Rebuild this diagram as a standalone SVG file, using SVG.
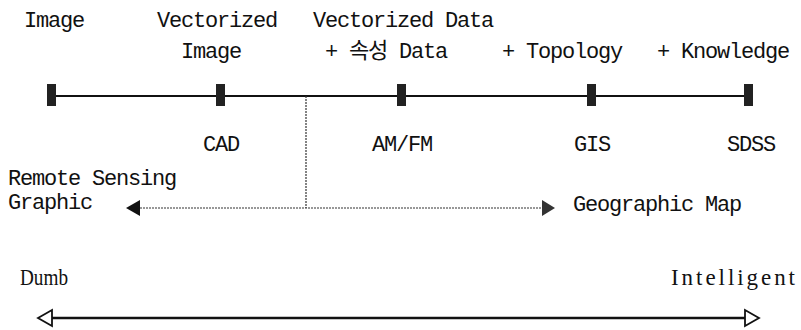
<svg xmlns="http://www.w3.org/2000/svg" width="801" height="330" viewBox="0 0 801 330">
<style>
.t{font-family:"Liberation Mono","Noto Sans CJK KR",monospace;font-size:22px;letter-spacing:-1.2px;fill:#111}
.s{font-family:"Liberation Serif",serif;font-size:23px;fill:#111}
.m{fill:#222}
.dot{stroke:#333;stroke-width:1.2;stroke-dasharray:2 1;fill:none}
.ln{stroke:#111;fill:none}
</style>
<rect width="801" height="330" fill="#fff"/>
<g id="labels-top">
<text class="t" x="24" y="27">Image</text>
<text class="t" x="157" y="27">Vectorized</text>
<text class="t" x="181" y="58">Image</text>
<text class="t" x="313" y="27">Vectorized Data</text>
<text class="t" x="325" y="58">+ 속성 Data</text>
<text class="t" x="502" y="58">+ Topology</text>
<text class="t" x="657" y="58">+ Knowledge</text>
</g>
<g id="connectors">
<line class="ln" x1="52" y1="96" x2="749" y2="96" stroke-width="2"/>
<line class="dot" x1="306" y1="96" x2="306" y2="208"/>
<line class="dot" x1="140" y1="208" x2="542" y2="208"/>
<polygon points="126,208 140,200 140,216" fill="#111"/>
<polygon points="555,208 542,200 542,216" fill="#333"/>
<line class="ln" x1="52" y1="318" x2="745" y2="318" stroke-width="2.5"/>
<polygon points="38,318 52,310 52,326" fill="#fff" stroke="#111" stroke-width="1.8"/>
<polygon points="759,318 745,310 745,326" fill="#fff" stroke="#111" stroke-width="1.8"/>
</g>
<g id="node-image"><rect class="m" x="47" y="84" width="9" height="22"/></g>
<g id="node-cad"><rect class="m" x="216" y="84" width="9" height="22"/><text class="t" x="221" y="151" text-anchor="middle">CAD</text></g>
<g id="node-amfm"><rect class="m" x="397" y="84" width="9" height="22"/><text class="t" x="402" y="151" text-anchor="middle">AM/FM</text></g>
<g id="node-gis"><rect class="m" x="587" y="84" width="9" height="22"/><text class="t" x="592" y="151" text-anchor="middle">GIS</text></g>
<g id="node-sdss"><rect class="m" x="744" y="84" width="9" height="22"/><text class="t" x="751" y="151" text-anchor="middle">SDSS</text></g>
<g id="node-rs"><text class="t" x="8" y="185">Remote Sensing</text><text class="t" x="8" y="209">Graphic</text></g>
<g id="node-geo"><text class="t" x="573" y="211">Geographic Map</text></g>
<g id="node-dumb"><text class="s" x="20" y="285" font-size="25" textLength="48" lengthAdjust="spacingAndGlyphs">Dumb</text></g>
<g id="node-intel"><text class="s" x="671" y="285" textLength="124">Intelligent</text></g>
</svg>
